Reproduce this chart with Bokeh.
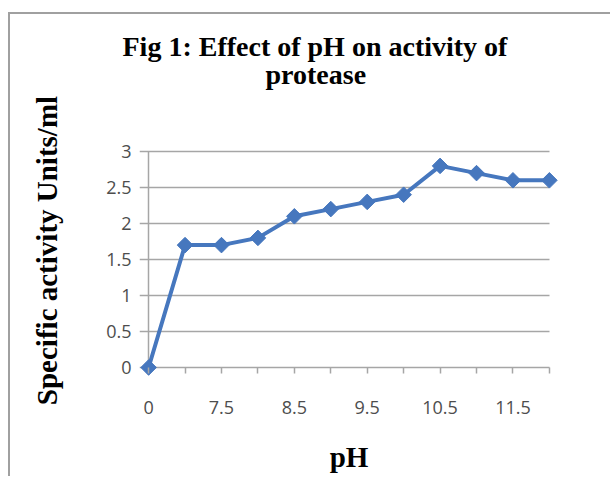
import math
from bokeh.plotting import figure
from bokeh.models import Range1d, FixedTicker, CustomJSTickFormatter, ColumnDataSource, Title
from bokeh.embed import file_html
from bokeh.resources import INLINE

# ---- data ----
ph_labels = ["0", "7", "7.5", "8", "8.5", "9", "9.5", "10", "10.5", "11", "11.5", "12"]
activity = [0, 1.7, 1.7, 1.8, 2.1, 2.2, 2.3, 2.4, 2.8, 2.7, 2.6, 2.6]
y_ticks = [0, 0.5, 1, 1.5, 2, 2.5, 3]
title_lines = ["Fig 1: Effect of pH on activity of", "protease"]

positions = list(range(len(ph_labels)))
source = ColumnDataSource(data=dict(x=positions, y=activity, ph=ph_labels))

BLUE = "#4677be"
GRID = "#a6a6a6"
TICKTXT = "#4d4d4d"

x_rng = Range1d(-0.25, len(ph_labels) - 1 + 0.25)
y_rng = Range1d(-0.125, 3.375)

p = figure(
    x_range=x_rng,
    y_range=y_rng,
    output_backend="svg",
    toolbar_location=None,
    frame_width=419,
    frame_height=252,
    min_border_left=129,
    min_border_top=110,
    min_border_right=52,
    min_border_bottom=100,
    margin=(12, 0, 0, 8),
    background_fill_color="white",
    border_fill_color="white",
)
p.title = None
p.styles = {"border-left": "2px solid #a0a0a0", "border-top": "2px solid #a0a0a0"}
p.outline_line_color = None

# two-line title, each line centered
sub = Title(text=title_lines[1], align="left", offset=126,
            text_font="Liberation Serif", text_font_style="bold",
            text_font_size="28px", text_color="black", standoff=70)
main = Title(text=title_lines[0], align="left", offset=-17,
             text_font="Liberation Serif", text_font_style="bold",
             text_font_size="28px", text_color="black", standoff=-80)
p.add_layout(sub, "above")
p.add_layout(main, "above")

# x axis (sits at frame bottom, ticks pulled up to the y=0 line)
xa = p.xaxis[0]
xa.ticker = FixedTicker(ticks=positions)
xa.major_label_overrides = {i: (ph_labels[i] if i % 2 == 0 else "") for i in positions}
xa.axis_line_color = None
xa.major_tick_in = 9
xa.major_tick_out = -3
xa.minor_tick_line_color = None
xa.major_tick_line_color = GRID
xa.major_tick_line_width = 1.5
xa.major_label_text_font = "Open Sans"
xa.major_label_text_font_size = "18px"
xa.major_label_text_color = TICKTXT
xa.major_label_standoff = 24
xa.axis_label = "pH"
xa.axis_label_text_font = "Liberation Serif"
xa.axis_label_text_font_style = "bold"
xa.axis_label_text_font_size = "29px"
xa.axis_label_text_color = "black"
xa.axis_label_standoff = 24

# y axis
ya = p.yaxis[0]
ya.ticker = FixedTicker(ticks=y_ticks)
ya.formatter = CustomJSTickFormatter(code="return String(tick)")
ya.axis_line_color = None
ya.major_tick_in = 0
ya.major_tick_out = 0
ya.major_tick_line_color = None
ya.minor_tick_line_color = None
ya.major_label_text_font = "Open Sans"
ya.major_label_text_font_size = "18px"
ya.major_label_text_color = TICKTXT
ya.major_label_standoff = 8
ya.axis_label = "Specific activity Units/ml"
ya.axis_label_text_font = "Liberation Serif"
ya.axis_label_text_font_style = "bold"
ya.axis_label_text_font_size = "29px"
ya.axis_label_text_color = "black"
ya.axis_label_standoff = 40

# grid: horizontal value lines, and the vertical axis line at the first category
p.ygrid.ticker = FixedTicker(ticks=y_ticks)
p.ygrid.bounds = (y_rng.start, y_rng.end)
p.ygrid.cross_bounds = (x_rng.start, positions[-1])
p.ygrid.grid_line_color = GRID
p.ygrid.grid_line_width = 1.5
p.xgrid.ticker = FixedTicker(ticks=[positions[0]])
p.xgrid.cross_bounds = (y_ticks[0], y_ticks[-1])
p.xgrid.grid_line_color = GRID
p.xgrid.grid_line_width = 1.5

# series
p.line(x="x", y="y", source=source, line_color=BLUE, line_width=4)
p.scatter(x="x", y="y", source=source, marker="square", angle=math.pi / 4,
          size=11, fill_color=BLUE, line_color=BLUE)

open("out.html", "w").write(file_html(p, INLINE))
